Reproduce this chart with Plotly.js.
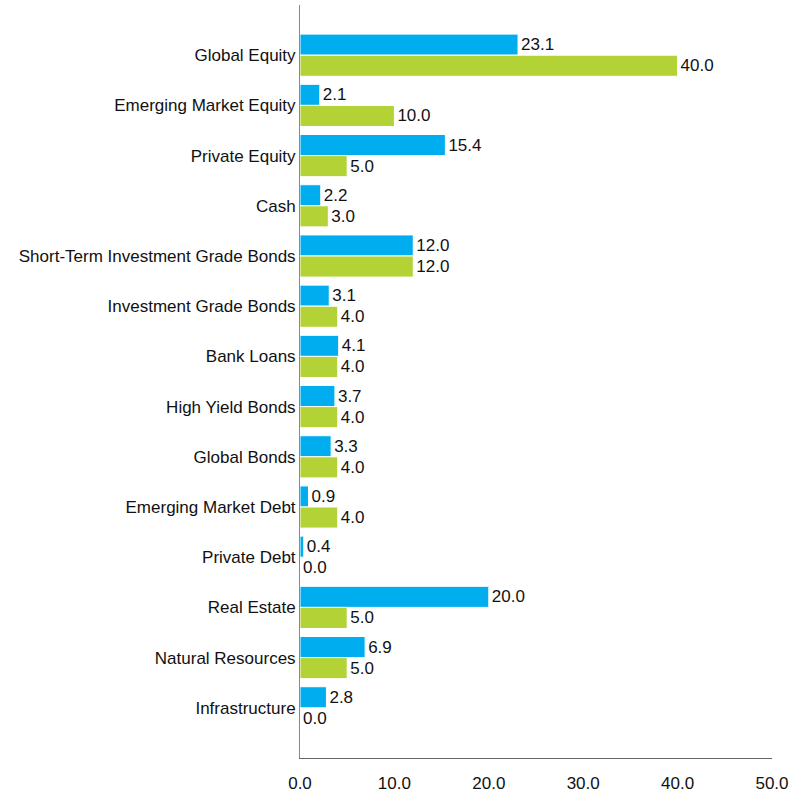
<!DOCTYPE html>
<html>
<head>
<meta charset="utf-8">
<script src="https://cdn.plot.ly/plotly-3.0.1.min.js"></script>
<style>html,body{margin:0;padding:0;background:#fff;}#chart{width:804px;height:800px;}</style>
</head>
<body>
<div id="chart"></div>
<script>
const categories = ["Global Equity","Emerging Market Equity","Private Equity","Cash","Short-Term Investment Grade Bonds","Investment Grade Bonds","Bank Loans","High Yield Bonds","Global Bonds","Emerging Market Debt","Private Debt","Real Estate","Natural Resources","Infrastructure"];
const seriesA = [23.1,2.1,15.4,2.2,12.0,3.1,4.1,3.7,3.3,0.9,0.4,20.0,6.9,2.8];
const seriesB = [40.0,10.0,5.0,3.0,12.0,4.0,4.0,4.0,4.0,4.0,0.0,5.0,5.0,0.0];
const xTicks = [0,10,20,30,40,50];

const mk = (vals, color) => ({
  type: 'bar', orientation: 'h', y: categories, x: vals,
  marker: {color: color, line: {color: '#ffffff', width: 1}},
  text: vals.map(v => v.toFixed(1)), textposition: 'outside', cliponaxis: false,
  textfont: {family: 'Liberation Sans, Arial, sans-serif', size: 17, color: '#111111'},
  hoverinfo: 'none'
});

Plotly.newPlot('chart', [mk(seriesA,'#00AEEF'), mk(seriesB,'#B2D235')], {
  width: 804, height: 800,
  margin: {l: 300, r: 32, t: 5, b: 42},
  barmode: 'group', bargap: 0.16, bargroupgap: 0,
  showlegend: false,
  paper_bgcolor: '#ffffff', plot_bgcolor: '#ffffff',
  font: {family: 'Liberation Sans, Arial, sans-serif', size: 17, color: '#111111'},
  xaxis: {range: [0, 50], tickvals: xTicks, ticktext: xTicks.map(v => v.toFixed(1)),
    showgrid: false, zeroline: false, showline: true, linecolor: '#666666', linewidth: 1,
    ticks: '', ticklabelstandoff: 10, fixedrange: true},
  yaxis: {type: 'category', categoryorder: 'array', categoryarray: categories,
    range: [14, -1], showgrid: false, zeroline: false, showline: true, linecolor: '#888888', linewidth: 1,
    ticks: '', ticklabelstandoff: 0, fixedrange: true}
}, {displayModeBar: false, staticPlot: true});
</script>
</body>
</html>
